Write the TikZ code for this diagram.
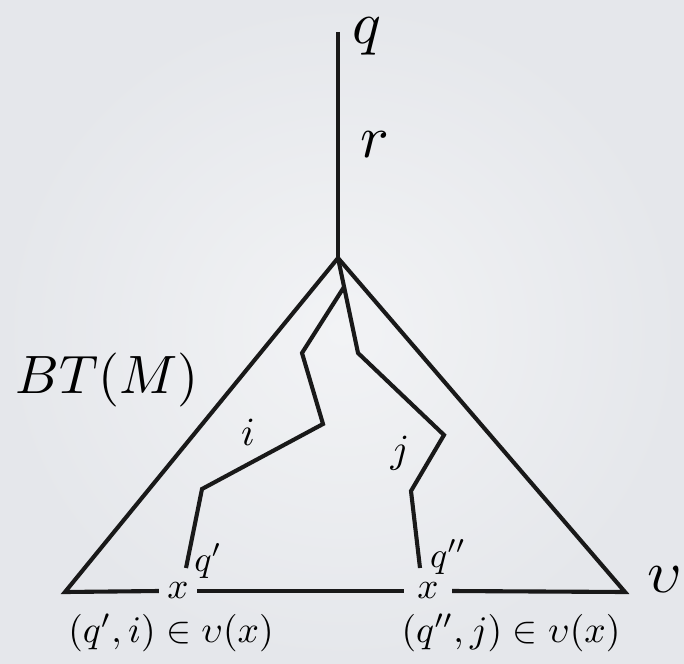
\documentclass[tikz,border=0pt]{standalone}
\usepackage{graphicx}
\newcommand{\mysz}[2]{\scalebox{#1}{#2}}
\begin{document}
\begin{tikzpicture}[x=1pt,y=-1pt,
  edge/.style={line width=4.1pt, draw=black!90, line join=miter},
  lab/.style={inner sep=0pt}]
\shade[inner color={rgb,255:red,242;green,243;blue,245}, outer color={rgb,255:red,229;green,231;blue,235}] (0,0) rectangle (684,663);
\useasboundingbox (0,0) rectangle (684,663);
% key points
\coordinate (T) at (338,32);
\coordinate (A) at (338,258);
\coordinate (L) at (65,592);
\coordinate (R) at (625,592);
\coordinate (B) at (344,287);
\coordinate (i1) at (302,353);
\coordinate (i2) at (323,424);
\coordinate (i3) at (202,489);
\coordinate (i4) at (186,568);
\coordinate (j1) at (358,353);
\coordinate (j2) at (444,435);
\coordinate (j3) at (411,491);
\coordinate (j4) at (420,568);
% base labels
\node[lab, minimum width=38pt] (x1) at (178,591) {\mysz{3.7}{$x$}};
\node[lab, minimum width=48pt] (x2) at (428,591) {\mysz{3.7}{$x$}};
% lines
\draw[edge] (T) -- (A);
\draw[edge] (x1.west) -- (L) -- (A) -- (R) -- (x2.east);
\draw[edge] (x1.east) -- (x2.west);
\draw[edge] (A) -- (j1) -- (j2) -- (j3) -- (j4);
\draw[edge] (B) -- (i1) -- (i2) -- (i3) -- (i4);
% labels
\node[lab] (lq) at (367,36) {\mysz{6}{$q$}};
\node[lab] (lr) at (375,145) {\mysz{6}{$r$}};
\node[lab] (lbt) at (107,380) {\mysz{5.4}{$BT(M)$}};
\node[lab] (lv) at (665,580) {\mysz{6}{$\upsilon$}};
\node[lab] (li) at (248,432) {\mysz{4}{$i$}};
\node[lab] (lj) at (400,453) {\mysz{4}{$j$}};
\node[lab] (lq1) at (208,561) {\mysz{3.6}{$q'$}};
\node[lab] (lq2) at (448,557) {\mysz{3.6}{$q''$}};
\node[lab] (b1) at (171,633) {\mysz{3.75}{$(q',i)\in \upsilon(x)$}};
\node[lab] (b2) at (511,633) {\mysz{3.75}{$(q'',j)\in \upsilon(x)$}};
\end{tikzpicture}
\end{document}
